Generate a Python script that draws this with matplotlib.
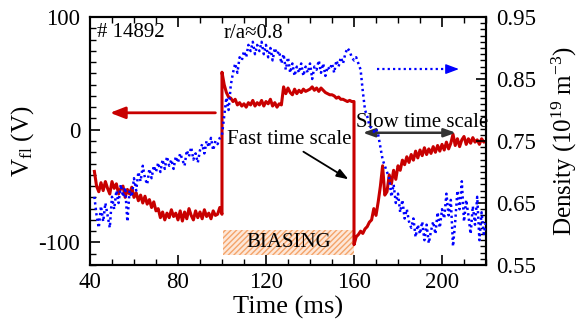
import matplotlib
matplotlib.use("Agg")
import matplotlib.pyplot as plt
from matplotlib.patches import Rectangle
from matplotlib.ticker import MultipleLocator

plt.rcParams['font.family'] = ['Liberation Serif', 'DejaVu Serif']
plt.rcParams['mathtext.fontset'] = 'custom'
plt.rcParams['mathtext.rm'] = 'Liberation Serif'
plt.rcParams['mathtext.it'] = 'Liberation Serif:italic'
plt.rcParams['axes.unicode_minus'] = False

# ---------------- data ----------------
# Floating potential V_fl (V), left axis
vfl_pre_start = 42
vfl_pre = [-37, -50, -55, -47, -54, -46, -52, -57, -46, -52, -48, -57, -52, -50, -60, -53, -57, -51,
           -60, -56, -63, -58, -65, -59, -66, -62, -69, -64, -72, -70, -78, -73, -80, -74, -78, -71,
           -77, -74, -80, -72, -81, -73, -79, -70, -76, -80, -72, -78, -73, -79, -71, -77, -74, -79,
           -72, -76, -75, -69, -75]
vfl_bias_start = 100
vfl_bias = [51, 40, 33, 29, 28, 25, 27, 22, 24, 21, 23, 20, 24, 22, 26, 21, 24, 22, 26, 21,
            25, 23, 27, 21, 24, 20, 23, 22, 38, 32, 37, 33, 31, 36, 32, 35, 33, 36, 34, 35,
            36, 38, 35, 37, 34, 37, 35, 33, 32, 31, 31, 30, 28, 29, 27, 27, 26, 25, 26, 25, 25]
vfl_post_start = 160
vfl_post = [-102, -95, -93, -90, -92, -88, -86, -82, -80, -70, -76, -64, -50, -32, -58, -55, -40, -48,
            -36, -44, -32, -36, -27, -31, -24, -29, -22, -27, -19, -25, -18, -23, -16, -22, -17, -21,
            -15, -20, -14, -19, -13, -18, -11, -17, -12, -4, -14, -8, -15, -9, -6, -13, -8, -12,
            -7, -11, -9, -13, -8, -11, -10]

# Density (1e19 m^-3), right axis
dens_start = 42
density = [0.66, 0.63, 0.61, 0.645, 0.62, 0.65, 0.63, 0.61,
           0.66, 0.64, 0.67, 0.65, 0.68, 0.66, 0.675, 0.62, 0.67, 0.66,
           0.69, 0.67, 0.70, 0.685, 0.71, 0.69, 0.68, 0.705, 0.69, 0.71,
           0.70, 0.715, 0.70, 0.72, 0.705, 0.725, 0.71, 0.72, 0.705, 0.725,
           0.715, 0.73, 0.72, 0.71, 0.735, 0.725, 0.74, 0.72, 0.73, 0.715,
           0.735, 0.745, 0.73, 0.75, 0.74, 0.755, 0.735, 0.75, 0.745, 0.755,
           0.76, 0.79, 0.82, 0.80, 0.84, 0.86, 0.875, 0.86, 0.885, 0.88,
           0.895, 0.885, 0.905, 0.895, 0.91, 0.89, 0.905, 0.895, 0.91, 0.89,
           0.905, 0.885, 0.90, 0.88, 0.90, 0.89, 0.895, 0.875, 0.89, 0.865,
           0.885, 0.86, 0.875, 0.855, 0.87, 0.86, 0.875, 0.855, 0.87, 0.86,
           0.875, 0.85, 0.87, 0.865, 0.88, 0.86, 0.875, 0.855, 0.87, 0.865,
           0.875, 0.86, 0.88, 0.87, 0.885, 0.875, 0.89, 0.90, 0.895, 0.885,
           0.88, 0.885, 0.875, 0.865, 0.83, 0.80, 0.79, 0.775, 0.77, 0.765,
           0.77, 0.76, 0.74, 0.72, 0.71, 0.70, 0.69, 0.66, 0.68, 0.65,
           0.665, 0.635, 0.655, 0.625, 0.64, 0.62, 0.61, 0.625, 0.595, 0.615,
           0.60, 0.62, 0.59, 0.615, 0.585, 0.605, 0.62, 0.60, 0.635, 0.61,
           0.64, 0.625, 0.665, 0.63, 0.655, 0.58, 0.62, 0.67, 0.64, 0.685,
           0.62, 0.655, 0.63, 0.60, 0.645, 0.615, 0.66, 0.59, 0.635, 0.60,
           0.62]

bias_window = (100.6, 160)
shot_label = "# 14892"
radius_label = "r/a\u22480.8"

# ---------------- build series ----------------
t_vfl = ([vfl_pre_start + i for i in range(len(vfl_pre))]
         + [vfl_bias_start + i for i in range(len(vfl_bias))]
         + [vfl_post_start + i for i in range(len(vfl_post))])
v_vfl = vfl_pre + vfl_bias + vfl_post
t_den = [dens_start + i for i in range(len(density))]

RED = '#c80000'
BLUE = '#0000ff'

fig = plt.figure(figsize=(5.79, 3.30), dpi=100)
ax = fig.add_axes([0.1554, 0.197, 0.684, 0.7515])
ax2 = ax.twinx()

ax.plot(t_vfl, v_vfl, color=RED, lw=2.2, zorder=3)
ax2.plot(t_den, density, color=BLUE, lw=1.8, linestyle=(0, (0.9, 1.3)), zorder=3)

ax.set_xlim(40, 220)
ax.set_ylim(-120, 100)
ax2.set_ylim(0.55, 0.95)

# ticks
ax.xaxis.set_major_locator(MultipleLocator(40))
ax.xaxis.set_minor_locator(MultipleLocator(10))
ax.yaxis.set_major_locator(MultipleLocator(100))
ax.yaxis.set_minor_locator(MultipleLocator(10))
ax2.set_yticks([0.55, 0.65, 0.75, 0.85, 0.95])
ax2.set_yticklabels(['0.55', '0.65', '0.75', '0.85', '0.95'])
ax2.yaxis.set_minor_locator(MultipleLocator(0.01))

ax.tick_params(axis='both', which='both', direction='in', top=True, right=False)
ax.tick_params(which='major', length=7, width=1.2, labelsize=16.5)
ax.tick_params(which='minor', length=4, width=1.0)
ax.tick_params(axis='y', pad=7)
ax.tick_params(axis='x', pad=5)
ax2.tick_params(axis='y', which='both', direction='in')
ax2.tick_params(which='major', length=7, width=1.2, labelsize=16.5, pad=7)
ax2.tick_params(which='minor', length=4, width=1.0)
for sp in ax.spines.values():
    sp.set_linewidth(1.5)
for sp in ax2.spines.values():
    sp.set_linewidth(1.5)

ax.set_xlabel('Time (ms)', fontsize=19, labelpad=2)
ax.set_ylabel(r'V$_{\rm fl}$ (V)', fontsize=18, labelpad=2)
ax2.set_ylabel(r'Density (10$^{19}$ m$^{-3}$)', fontsize=18, labelpad=10)

# biasing window
ax.add_patch(Rectangle((bias_window[0], -111), bias_window[1] - bias_window[0], 22,
                       facecolor='#fde7d8', edgecolor='#f4a46a', hatch='//////', lw=0, zorder=1))
ax.text((bias_window[0] + bias_window[1]) / 2, -100, 'BIASING', fontsize=15,
        ha='center', va='center', zorder=2)

# labels
ax.text(43.2, 86, shot_label, fontsize=15, ha='left', va='center')
ax.text(100.6, 85, radius_label, fontsize=15, ha='left', va='center')
ax.text(102.4, -8.5, 'Fast time scale', fontsize=15, ha='left', va='center', zorder=5)
ax.text(160.7, 6.5, 'Slow time scale', fontsize=15, ha='left', va='center', zorder=5)

# arrows
ax.annotate('', xy=(49.1, 15), xytext=(97, 15),
            arrowprops=dict(arrowstyle='-|>,head_length=0.9,head_width=0.35', color=RED, lw=2,
                            shrinkA=0, shrinkB=0))
ax2.plot([170.3, 206], [0.866, 0.866], color=BLUE, lw=1.6, linestyle=(0, (1, 1.4)))
ax2.annotate('', xy=(207.7, 0.866), xytext=(204.5, 0.866),
             arrowprops=dict(arrowstyle='-|>,head_length=0.8,head_width=0.3', color=BLUE, lw=1,
                             shrinkA=0, shrinkB=0))
ax.annotate('', xy=(157.5, -44), xytext=(137, -19.5),
            arrowprops=dict(arrowstyle='-|>,head_length=0.7,head_width=0.25', color='black', lw=1.3,
                            shrinkA=0, shrinkB=0), zorder=6)
ax.annotate('', xy=(206.3, -2.7), xytext=(164, -2.7),
            arrowprops=dict(arrowstyle='<|-|>,head_length=0.7,head_width=0.25', color='#333333', lw=1.8,
                            shrinkA=0, shrinkB=0), zorder=6)

fig.savefig('out.png', dpi=100)
